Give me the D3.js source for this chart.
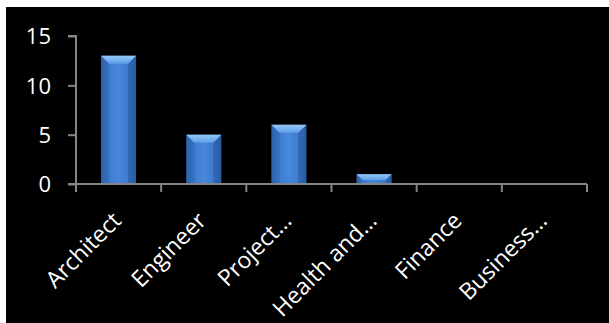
<!DOCTYPE html>
<html>
<head>
<meta charset="utf-8">
<script src="https://cdn.jsdelivr.net/npm/d3@7"></script>
<style>
  html, body { margin: 0; padding: 0; background: #ffffff; }
  svg { display: block; }
</style>
</head>
<body>
<svg id="chart" width="609" height="323"></svg>
<script>
// Job categories and headcounts
const categories = ["Architect", "Engineer", "Project…", "Health and…", "Finance", "Business…"];
const counts = [13, 5, 6, 1, 0, 0];
const yTicks = [0, 5, 10, 15];

const W = 609, H = 323;
const plot = { left: 76, right: 587, top: 36, bottom: 184 };

const svg = d3.select("#chart");

// Black chart area inside a thin white frame
svg.append("rect").attr("x", 6).attr("y", 7).attr("width", W - 6).attr("height", H - 7).attr("fill", "#000");

const x = d3.scaleBand().domain(categories).range([plot.left, plot.right]).padding(0);
const y = d3.scaleLinear().domain([0, 15]).range([plot.bottom, plot.top]);

const defs = svg.append("defs");
const body = defs.append("linearGradient").attr("id", "barBody").attr("x1", 0).attr("x2", 1).attr("y1", 0).attr("y2", 0);
body.append("stop").attr("offset", "0%").attr("stop-color", "#2c5ea6");
body.append("stop").attr("offset", "18%").attr("stop-color", "#3c7acd");
body.append("stop").attr("offset", "50%").attr("stop-color", "#4787dc");
body.append("stop").attr("offset", "82%").attr("stop-color", "#3c7acd");
body.append("stop").attr("offset", "100%").attr("stop-color", "#2c5ea6");
const bevel = defs.append("linearGradient").attr("id", "barTop").attr("x1", 0).attr("x2", 0).attr("y1", 0).attr("y2", 1);
bevel.append("stop").attr("offset", "0%").attr("stop-color", "#94c8f8");
bevel.append("stop").attr("offset", "100%").attr("stop-color", "#5e9de8");

// Bars with a bevelled top
const barFrac = 0.41;
const bars = svg.append("g").selectAll("g").data(categories.map((c, i) => ({ c, v: counts[i] })).filter(d => d.v > 0))
  .join("g");

bars.each(function (d) {
  const g = d3.select(this);
  const bw = x.bandwidth() * barFrac;
  const x0 = x(d.c) + (x.bandwidth() - bw) / 2;
  const top = y(d.v), base = y(0);
  const h = base - top;
  const b = Math.min(8, h * 0.6);
  g.append("rect").attr("x", x0).attr("y", top).attr("width", bw).attr("height", h).attr("fill", "url(#barBody)");
  // side bevel edges
  g.append("path").attr("d", `M${x0},${top} L${x0 + b},${top + b} L${x0 + b},${base} L${x0},${base} Z`).attr("fill", "#2f66b3").attr("opacity", 0.55);
  g.append("path").attr("d", `M${x0 + bw},${top} L${x0 + bw - b},${top + b} L${x0 + bw - b},${base} L${x0 + bw},${base} Z`).attr("fill", "#2a5a9e").attr("opacity", 0.6);
  g.append("path").attr("d", `M${x0},${top} L${x0 + bw},${top} L${x0 + bw - b},${top + b} L${x0 + b},${top + b} Z`).attr("fill", "url(#barTop)");
});

// Axes
const axisColor = "#868686";
const yAxis = svg.append("g").attr("transform", `translate(${plot.left},0)`)
  .call(d3.axisLeft(y).tickValues(yTicks).tickSize(8).tickPadding(17).tickFormat(d3.format("d")));
const xAxis = svg.append("g").attr("transform", `translate(0,${plot.bottom})`)
  .call(d3.axisBottom(x).tickSize(0).tickFormat(""));

[yAxis, xAxis].forEach(a => {
  a.select(".domain").attr("stroke", axisColor).attr("stroke-width", 2);
  a.selectAll(".tick line").attr("stroke", axisColor).attr("stroke-width", 2);
});
xAxis.select(".domain").attr("d", `M${plot.left - 8},0H${plot.right}`);
yAxis.select(".domain").attr("d", `M-8,${y(15)}H0V${plot.bottom}`);

// Category boundary ticks
const bounds = categories.map(c => x(c)).concat([plot.right]);
xAxis.selectAll(".bound").data(bounds).join("line")
  .attr("x1", d => d).attr("x2", d => d).attr("y1", 0).attr("y2", 8)
  .attr("stroke", axisColor).attr("stroke-width", 2);

yAxis.selectAll(".tick text")
  .attr("fill", "#fff").attr("font-family", "'Open Sans', sans-serif").attr("font-size", 22).attr("dy", "0.35em");

// Rotated category labels
svg.append("g").selectAll("text").data(categories).join("text")
  .attr("transform", d => `translate(${x(d) + x.bandwidth() / 2 + 4},${plot.bottom + 38}) rotate(-45)`)
  .attr("text-anchor", "end")
  .attr("fill", "#fff")
  .attr("font-family", "'Open Sans', sans-serif")
  .attr("font-size", 23)
  .text(d => d);
</script>
</body>
</html>
